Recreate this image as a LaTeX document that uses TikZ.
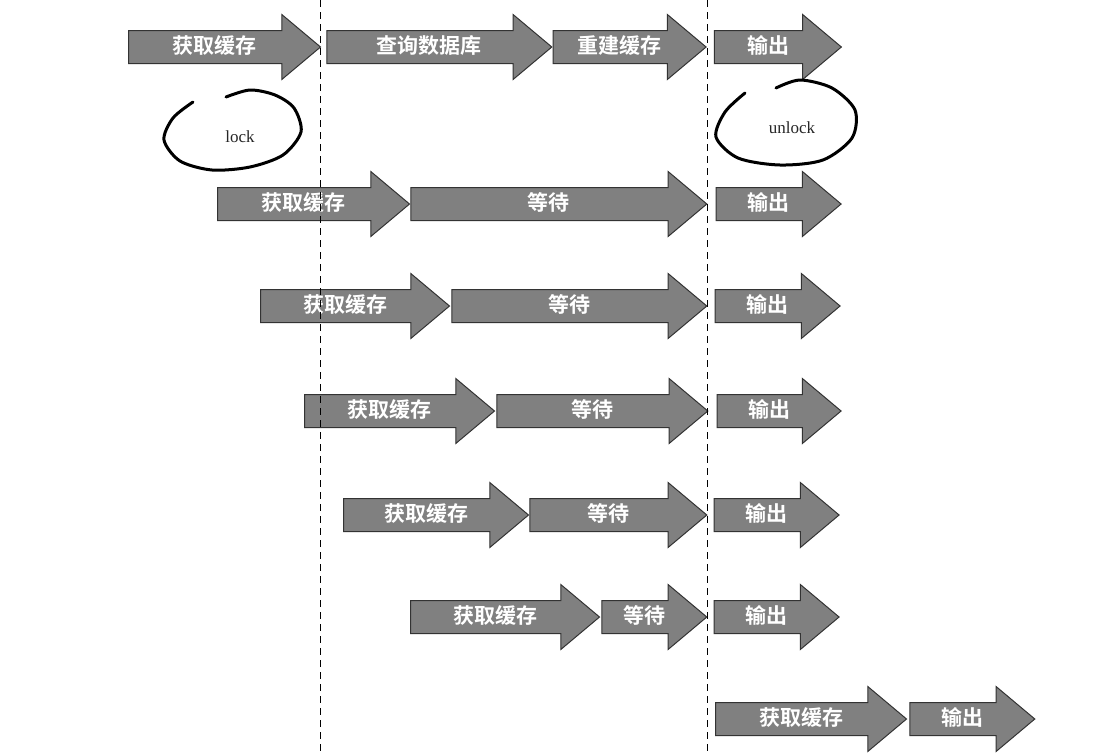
\documentclass[tikz,border=0pt]{standalone}
\usepackage{fontspec}
\setmainfont{Liberation Serif}
\newfontfamily\cjk{Noto Sans CJK SC}[BoldFont={* Bold}]
\usetikzlibrary{shapes.arrows,positioning}

\begin{document}
\begin{tikzpicture}[x=1pt, y=-1pt, font=\cjk\bfseries\fontsize{21}{24}\selectfont]
\tikzstyle{stage}=[single arrow, draw=black!80, line width=1pt, fill=black!50, text=white, single arrow head extend=16pt, single arrow tip angle=80, single arrow head indent=0pt, text height=15pt, text depth=3pt, inner ysep=7pt, inner xsep=4pt, anchor=west]
\tikzstyle{cut}=[dash pattern=on 7pt off 5pt, line width=1pt]
\tikzstyle{loopline}=[line width=3pt, line cap=round, line join=round]
\tikzstyle{tag}=[font=\rmfamily\fontsize{17}{20}\selectfont, text=black!85]
\useasboundingbox (0,0) rectangle (1117,753);
\node[stage, minimum height=192pt] (get1) at (128,47) {获取缓存};
\node[stage, minimum height=225pt, right=5pt of get1] (query1) {查询数据库};
\node[stage, minimum height=153pt, right=0pt of query1] (rebuild1) {重建缓存};
\node[stage, minimum height=127pt, right=7pt of rebuild1] (out1) {输出};
\node[stage, minimum height=192pt] (get2) at (217,204) {获取缓存};
\node[stage, minimum height=296pt, right=0pt of get2] (wait2) {等待};
\node[stage, minimum height=125pt, right=8pt of wait2] (out2) {输出};
\node[stage, minimum height=189pt] (get3) at (260,306) {获取缓存};
\node[stage, minimum height=255pt, right=1pt of get3] (wait3) {等待};
\node[stage, minimum height=125pt, right=7pt of wait3] (out3) {输出};
\node[stage, minimum height=190pt] (get4) at (304,411) {获取缓存};
\node[stage, minimum height=211pt, right=1pt of get4] (wait4) {等待};
\node[stage, minimum height=124pt, right=8pt of wait4] (out4) {输出};
\node[stage, minimum height=185pt] (get5) at (343,515) {获取缓存};
\node[stage, minimum height=177pt, right=0pt of get5] (wait5) {等待};
\node[stage, minimum height=125pt, right=6pt of wait5] (out5) {输出};
\node[stage, minimum height=189pt] (get6) at (410,617) {获取缓存};
\node[stage, minimum height=105pt, right=1pt of get6] (wait6) {等待};
\node[stage, minimum height=125pt, right=6pt of wait6] (out6) {输出};
\node[stage, minimum height=191pt] (get7) at (715,719) {获取缓存};
\node[stage, minimum height=125pt, right=2pt of get7] (out7) {输出};
\node[tag] (lock) at (240,137) {lock};
\node[tag] (unlock) at (792,128) {unlock};
\draw[loopline] plot[smooth] coordinates {(193,102) (173,118) (164,140) (180,161) (212,170) (250,167) (283,155) (301,132) (294,108) (275,95) (250,90) (226,97)};
\draw[loopline] plot[smooth] coordinates {(745,93) (725,112) (716,137) (738,158) (780,165) (823,160) (852,138) (855,110) (832,88) (800,80) (776,88)};
\draw[cut] (320,0) -- (320,753);
\draw[cut] (707,0) -- (707,753);
\end{tikzpicture}
\end{document}
